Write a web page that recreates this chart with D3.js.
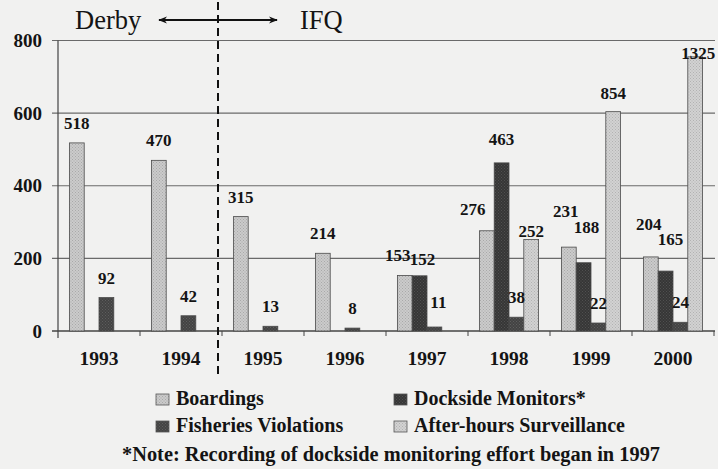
<!DOCTYPE html>
<html>
<head>
<meta charset="utf-8">
<script src="https://cdn.jsdelivr.net/npm/d3@7"></script>
<style>
  body { margin: 0; background: #f1f1f0; }
  svg { display: block; }
  text { font-family: "Liberation Serif", "DejaVu Serif", serif; fill: #141414; }
</style>
</head>
<body>
<script>
// data
var years = ["1993", "1994", "1995", "1996", "1997", "1998", "1999", "2000"];
var boardings = [518, 470, 315, 214, 153, 276, 231, 204];
var docksideMonitors = [null, null, null, null, 152, 463, 188, 165];
var fisheriesViolations = [92, 42, 13, 8, 11, 38, 22, 24];
var afterHours = [null, null, null, null, null, 252, 854, 1325];
var yTicks = [0, 200, 400, 600, 800];
var seriesNames = ["Boardings", "Dockside Monitors*", "Fisheries Violations", "After-hours Surveillance"];

var width = 718, height = 469;
var plot = {left: 58, right: 714, top: 40.5, bottom: 331};

var svg = d3.select("body")
  .append("svg")
    .attr("width", width)
    .attr("height", height);

var defs = svg.append("defs");

// stippled fills, like the scanned original
function stipple(id, base, dot) {
  var p = defs.append("pattern")
    .attr("id", id)
    .attr("patternUnits", "userSpaceOnUse")
    .attr("width", 3).attr("height", 3);
  p.append("rect").attr("width", 3).attr("height", 3).attr("fill", base);
  p.append("rect").attr("x", 0).attr("y", 0).attr("width", 1).attr("height", 1).attr("fill", dot);
  p.append("rect").attr("x", 1.5).attr("y", 1.5).attr("width", 1).attr("height", 1).attr("fill", dot);
  return "url(#" + id + ")";
}

var series = [
  {key: "b", values: boardings, fill: stipple("pb", "#cbcbcb", "#a9a9a9")},
  {key: "d", values: docksideMonitors, fill: stipple("pd", "#363636", "#505050")},
  {key: "f", values: fisheriesViolations, fill: stipple("pf", "#434343", "#5e5e5e")},
  {key: "a", values: afterHours, fill: stipple("pa", "#d2d2d2", "#b2b2b2")}
];

// x scales
var x0 = d3.scaleBand()
  .domain(years)
  .range([plot.left, plot.right])
  .paddingInner(0.278)
  .paddingOuter(0.139);
var x1 = d3.scaleBand()
  .domain(series.map(function(s) { return s.key; }))
  .range([0, x0.bandwidth()]);

// y axis scale, and the bar scale (tall after-hours bars are squeezed above 600 like the original)
var y = d3.scaleLinear().domain([0, 800]).range([plot.bottom, plot.top]);
var yBar = d3.scaleLinear()
  .domain([0, 600, 854, 1325])
  .range([y(0), y(600), y(604), y(755)]);

// gridlines + tick stubs
svg.append("g")
  .selectAll("line")
  .data(yTicks)
  .enter().append("line")
    .attr("x1", plot.left - 6)
    .attr("x2", plot.right + 1)
    .attr("y1", function(d) { return y(d); })
    .attr("y2", function(d) { return y(d); })
    .attr("stroke", function(d) { return d === 0 ? "#444" : "#6a6a6a"; })
    .attr("stroke-width", function(d) { return d === 0 ? 1.3 : 1.1; });

// y axis line
svg.append("line")
  .attr("x1", plot.left).attr("x2", plot.left)
  .attr("y1", y(800)).attr("y2", y(0) + 7)
  .attr("stroke", "#444").attr("stroke-width", 1.2);

// x tick marks at the band edges
var edges = d3.range(years.length + 1).map(function(i) { return plot.left + i * x0.step(); });
svg.append("g")
  .selectAll("line")
  .data(edges.slice(1))
  .enter().append("line")
    .attr("x1", function(d) { return d; })
    .attr("x2", function(d) { return d; })
    .attr("y1", y(0))
    .attr("y2", y(0) + 5)
    .attr("stroke", "#444");

// y tick labels
svg.append("g")
  .selectAll("text")
  .data(yTicks)
  .enter().append("text")
    .attr("x", 42)
    .attr("y", function(d) { return y(d) + 6.5; })
    .attr("text-anchor", "end")
    .attr("font-size", 19)
    .attr("font-weight", "bold")
    .text(function(d) { return d; });

// x labels
svg.append("g")
  .selectAll("text")
  .data(years)
  .enter().append("text")
    .attr("x", function(d) { return x0(d) + x0.bandwidth() / 2; })
    .attr("y", 365)
    .attr("text-anchor", "middle")
    .attr("font-size", 19.5)
    .attr("font-weight", "bold")
    .text(function(d) { return d; });

// flatten the bars
var bars = [];
series.forEach(function(s) {
  s.values.forEach(function(v, i) {
    if (v !== null) bars.push({key: s.key, year: years[i], value: v, fill: s.fill});
  });
});

svg.append("g")
  .selectAll("rect")
  .data(bars)
  .enter().append("rect")
    .attr("x", function(d) { return x0(d.year) + x1(d.key); })
    .attr("y", function(d) { return yBar(d.value); })
    .attr("width", x1.bandwidth())
    .attr("height", function(d) { return yBar(0) - yBar(d.value); })
    .attr("fill", function(d) { return d.fill; })
    .attr("stroke", "#4a4a4a")
    .attr("stroke-width", 0.8);

// label nudges where the original moved labels around
var nudge = {
  "b1997": [-7, 0], "d1997": [3, 3], "f1997": [4, -5],
  "b1998": [-14, -2], "d1998": [0, -4], "a1998": [0, 12],
  "b1999": [-3, -16], "d1999": [3, -16], "a1999": [0, 1],
  "b2000": [-2, -13], "d2000": [5, -12], "a2000": [3, 16]
};

svg.append("g")
  .selectAll("text")
  .data(bars)
  .enter().append("text")
    .attr("x", function(d) {
      var n = nudge[d.key + d.year] || [0, 0];
      return x0(d.year) + x1(d.key) + x1.bandwidth() / 2 + n[0];
    })
    .attr("y", function(d) {
      var n = nudge[d.key + d.year] || [0, 0];
      return yBar(d.value) - 14 + n[1];
    })
    .attr("text-anchor", "middle")
    .attr("font-size", 17)
    .attr("font-weight", "bold")
    .text(function(d) { return d.value; });

// Derby / IFQ divider
svg.append("line")
  .attr("x1", 218).attr("x2", 218)
  .attr("y1", 2).attr("y2", 378)
  .attr("stroke", "#111")
  .attr("stroke-width", 2)
  .attr("stroke-dasharray", "8,5");

defs.append("marker")
  .attr("id", "arr")
  .attr("viewBox", "0 0 10 10")
  .attr("refX", 9).attr("refY", 5)
  .attr("markerWidth", 5).attr("markerHeight", 5)
  .attr("orient", "auto-start-reverse")
  .append("path")
    .attr("d", "M0,1 L10,5 L0,9 L3,5 Z")
    .attr("fill", "#111");

svg.append("line")
  .attr("x1", 159).attr("x2", 277)
  .attr("y1", 20).attr("y2", 20)
  .attr("stroke", "#111")
  .attr("stroke-width", 1.8)
  .attr("marker-start", "url(#arr)")
  .attr("marker-end", "url(#arr)");

svg.append("text")
  .attr("x", 75).attr("y", 29)
  .attr("font-size", 26.5)
  .text("Derby");
svg.append("text")
  .attr("x", 300).attr("y", 29)
  .attr("font-size", 26.5)
  .text("IFQ");

// legend
var legend = [
  {name: seriesNames[0], fill: series[0].fill, x: 156, y: 405},
  {name: seriesNames[1], fill: series[1].fill, x: 394, y: 405},
  {name: seriesNames[2], fill: series[2].fill, x: 156, y: 432},
  {name: seriesNames[3], fill: series[3].fill, x: 394, y: 432}
];
var lg = svg.append("g").selectAll("g").data(legend).enter().append("g");
lg.append("rect")
  .attr("x", function(d) { return d.x; })
  .attr("y", function(d) { return d.y - 11; })
  .attr("width", 13).attr("height", 11)
  .attr("fill", function(d) { return d.fill; })
  .attr("stroke", "#555").attr("stroke-width", 0.8);
lg.append("text")
  .attr("x", function(d) { return d.x + 20; })
  .attr("y", function(d) { return d.y; })
  .attr("font-size", 20)
  .attr("font-weight", "bold")
  .text(function(d) { return d.name; });

svg.append("text")
  .attr("x", 122).attr("y", 461)
  .attr("font-size", 20.4)
  .attr("font-weight", "bold")
  .text("*Note: Recording of dockside monitoring effort began in 1997");
</script>
</body>
</html>
